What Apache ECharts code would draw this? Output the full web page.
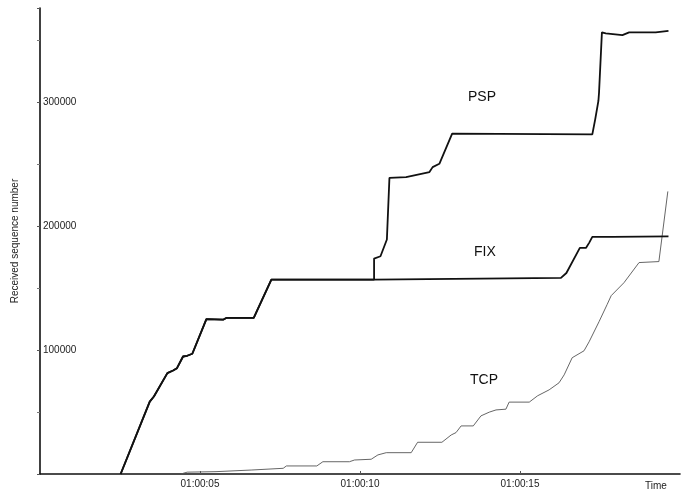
<!DOCTYPE html>
<html>
<head>
<meta charset="utf-8">
<script src="https://cdn.jsdelivr.net/npm/echarts@6/dist/echarts.min.js"></script>
<style>
  html, body { margin: 0; padding: 0; background: #fff; }
  #chart { width: 686px; height: 493px; }
</style>
</head>
<body>
<div id="chart"></div>
<script>
// Time in seconds after 01:00:00
const pspTime  = [2.52, 3.43, 3.56, 3.98, 4.16, 4.28, 4.47, 4.60, 4.76, 5.20, 5.72, 5.82, 6.68, 7.23,
                  10.44, 10.44, 10.64, 10.84, 10.92, 11.44, 12.17, 12.27, 12.48, 12.88,
                  17.26, 17.35, 17.45, 17.47, 17.56, 17.68, 18.20, 18.41, 19.24, 19.64];
const pspValue = [0, 58400, 62500, 81400, 83500, 85400, 94800, 95400, 97000, 125000, 124500, 125900, 125900, 156800,
                  156800, 173800, 175700, 189200, 239000, 239500, 243600, 247600, 250300, 274600,
                  274000, 286200, 301000, 307800, 356300, 355500, 354100, 356300, 356300, 357600];

const fixTime  = [2.52, 3.43, 3.56, 3.98, 4.16, 4.28, 4.47, 4.60, 4.76, 5.20, 5.72, 5.82, 6.68, 7.23,
                  10.44, 16.28, 16.45, 16.87, 17.06, 17.16, 17.26, 17.89, 19.64];
const fixValue = [0, 58400, 62500, 81400, 83500, 85400, 94800, 95400, 97000, 125000, 124500, 125900, 125900, 156800,
                  156800, 158200, 162200, 182400, 182400, 186500, 191300, 191300, 191800];

const tcpTime  = [4.40, 4.60, 5.50, 5.55, 6.60, 6.65, 7.60, 7.70, 8.65, 8.84, 9.67, 9.83, 10.35, 10.56, 10.82,
                  11.60, 11.80, 12.56, 12.85, 13.00, 13.16, 13.54, 13.78, 14.04, 14.25, 14.56, 14.66, 15.29,
                  15.55, 15.91, 16.22, 16.38, 16.63, 17.00, 17.16, 17.47, 17.72, 17.85, 18.25, 18.72, 19.34, 19.62];
const tcpValue = [0, 1500, 1900, 3200, 3200, 4600, 4600, 6500, 6500, 9900, 9900, 11300, 11900, 15400, 17200,
                  17200, 25600, 25600, 31500, 33400, 38800, 38800, 46900, 49900, 51700, 52300, 58000, 58000,
                  63100, 67900, 73600, 80000, 93800, 99400, 106700, 122900, 136600, 143900, 154400, 170600, 171400, 228000];

const xTickSeconds = [5, 10, 15];
const yTicks = [100000, 200000, 300000];
const seriesNames = ['PSP', 'FIX', 'TCP'];

function pairs(t, v) { return t.map((x, i) => [x, v[i]]); }
function timeLabel(s) { return '01:00:' + String(s).padStart(2, '0'); }

const FONT = '"Liberation Sans", Arial, sans-serif';
const chart = echarts.init(document.getElementById('chart'), null, { renderer: 'canvas' });

chart.setOption({
  animation: false,
  backgroundColor: '#ffffff',
  grid: { left: 40, right: 6, top: 8, bottom: 19, containLabel: false },
  xAxis: {
    type: 'value', min: 0, max: 20, interval: 5,
    axisLine: { show: true, lineStyle: { color: '#111', width: 1.6 } },
    axisTick: { show: true, inside: true, length: 3, lineStyle: { color: '#555', width: 1 } },
    splitLine: { show: false },
    axisLabel: {
      margin: 5, fontSize: 10, fontFamily: FONT, color: '#222',
      showMinLabel: false, showMaxLabel: false,
      formatter: v => xTickSeconds.includes(v) ? timeLabel(v) : ''
    }
  },
  yAxis: {
    type: 'value', min: 0, max: 376000, interval: 100000,
    name: 'Received sequence number', nameLocation: 'middle', nameGap: 20,
    nameTextStyle: { fontSize: 10, fontFamily: FONT, color: '#222' },
    axisLine: { show: true, lineStyle: { color: '#111', width: 1.6 } },
    axisTick: { show: true, inside: false, length: 3, lineStyle: { color: '#555' } },
    minorTick: { show: true, splitNumber: 2, length: 3, lineStyle: { color: '#777' } },
    splitLine: { show: false },
    axisLabel: {
      inside: true, margin: 3, fontSize: 10, fontFamily: FONT, color: '#222',
      formatter: v => yTicks.includes(v) ? String(v) : ''
    }
  },
  series: [
    { name: seriesNames[0], type: 'line', data: pairs(pspTime, pspValue), showSymbol: false,
      lineStyle: { color: '#111', width: 1.8 }, z: 3 },
    { name: seriesNames[1], type: 'line', data: pairs(fixTime, fixValue), showSymbol: false,
      lineStyle: { color: '#111', width: 1.8 }, z: 3 },
    { name: seriesNames[2], type: 'line', data: pairs(tcpTime, tcpValue), showSymbol: false,
      lineStyle: { color: '#555', width: 0.9 }, z: 2 }
  ],
  graphic: [
    { type: 'text', left: 468, top: 90, style: { text: seriesNames[0], font: '14px ' + FONT, fill: '#111' } },
    { type: 'text', left: 474, top: 245, style: { text: seriesNames[1], font: '14px ' + FONT, fill: '#111' } },
    { type: 'text', left: 470, top: 373, style: { text: seriesNames[2], font: '14px ' + FONT, fill: '#111' } },
    { type: 'text', left: 645, top: 481, style: { text: 'Time', font: '10px ' + FONT, fill: '#222' } }
  ]
});
</script>
</body>
</html>
